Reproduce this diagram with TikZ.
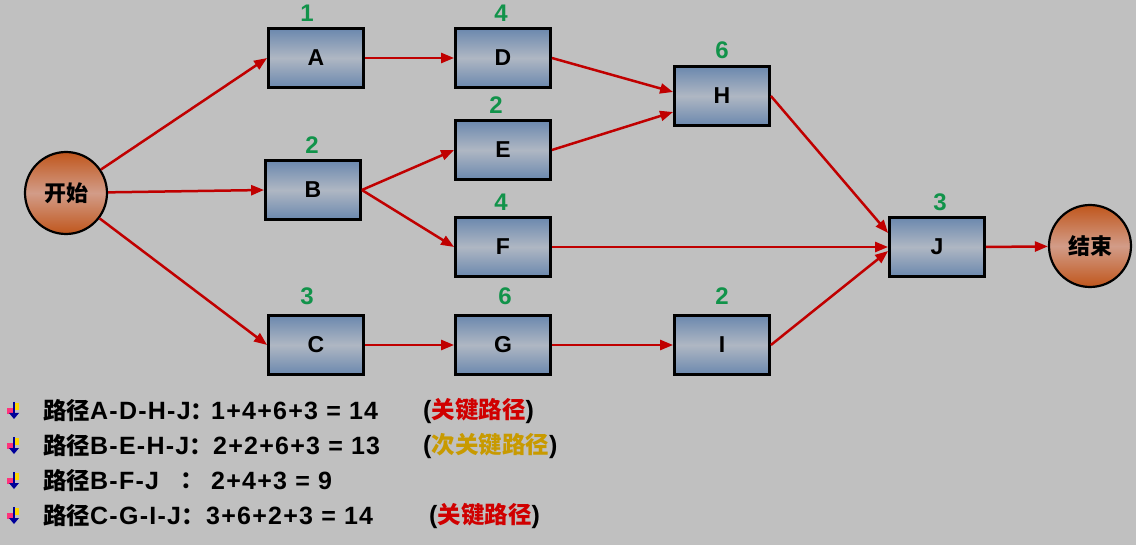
\documentclass[tikz,border=0pt]{standalone}
\usepackage{fontspec}
\newfontfamily\cjk{Noto Sans CJK SC}
\newfontfamily\lat{Liberation Sans}
\newfontfamily\latw{Liberation Sans}[LetterSpace=5]
\usetikzlibrary{arrows.meta}
\definecolor{bg}{HTML}{C0C0C0}
\definecolor{edgered}{HTML}{C00000}
\definecolor{num}{HTML}{11934A}
\definecolor{boxA}{HTML}{6B88AE}
\definecolor{boxB}{HTML}{AFB7C3}
\definecolor{circA}{HTML}{C0561C}
\definecolor{circB}{HTML}{D29C88}
\definecolor{keyred}{HTML}{D00000}
\definecolor{gold}{HTML}{C89A00}
\tikzset{
  task/.style={draw=black, line width=2.8pt, minimum width=95pt, minimum height=59pt, inner sep=0pt,
    top color=boxA, bottom color=boxA, middle color=boxB, font=\lat\bfseries\fontsize{23}{27}\selectfont},
  ev/.style={circle, draw=black, line width=2.2pt, minimum size=82pt, inner sep=0pt,
    top color=circA, bottom color=circA, middle color=circB, font=\cjk\bfseries\fontsize{22}{26}\selectfont},
  dur/.style={text=num, inner sep=0pt, font=\lat\bfseries\fontsize{24}{28}\selectfont},
  link/.style={draw=edgered, line width=2.5pt, -{Triangle[length=13pt,width=10pt]}},
  txt/.style={anchor=west, inner sep=0pt, font=\bfseries\fontsize{23}{27}\selectfont},
  bul/.pic={
    \fill[yellow!75!orange] (-1,-8) rectangle (5,-1);
    \fill[red!65!magenta!80] (-7,-3) rectangle (-1,3);
    \draw[blue!60!black, line width=1.8pt] (0,-9) -- (0,3);
    \fill[blue!60!black] (-5,2) -- (5,2) -- (0,8) -- cycle;
  }
}
\newcommand\Lt[1]{{\latw\bfseries\fontsize{25}{29}\selectfont #1}}
\newcommand\Ck[1]{{\cjk\bfseries\fontsize{23.5}{27}\selectfont #1}}
\begin{document}
\begin{tikzpicture}[x=1pt,y=-1pt]
\fill[bg] (0,0) rectangle (1136,545);
\useasboundingbox (0,0) rectangle (1136,545);

\node[ev] (start) at (66,193) {开始};
\node[ev] (end) at (1090,246) {结束};

\node[task] (A) at (316,58) {A};
\node[task] (D) at (503,58) {D};
\node[task] (H) at (722,96) {H};
\node[task] (B) at (313,190) {B};
\node[task] (E) at (503,150) {E};
\node[task] (F) at (503,247) {F};
\node[task] (C) at (316,345) {C};
\node[task] (G) at (503,345) {G};
\node[task] (I) at (722,345) {I};
\node[task] (J) at (937,247) {J};

\node[dur] (dA) at (307,13) {1};
\node[dur] (dD) at (501,13) {4};
\node[dur] (dH) at (722,50) {6};
\node[dur] (dB) at (312,145) {2};
\node[dur] (dE) at (496,105) {2};
\node[dur] (dF) at (501,202) {4};
\node[dur] (dJ) at (940,202) {3};
\node[dur] (dC) at (307,296) {3};
\node[dur] (dG) at (505,296) {6};
\node[dur] (dI) at (722,296) {2};

\draw[link] (start) -- (A.west);
\draw[link] (start) -- (B.west);
\draw[link] (start) -- (C.west);
\draw[link] (A.east) -- (D.west);
\draw[link] (B.east) -- (E.west);
\draw[link] (B.east) -- (F.west);
\draw[link] (C.east) -- (G.west);
\draw[link] (D.east) -- ([yshift=4pt]H.west);
\draw[link] (E.east) -- ([yshift=-16pt]H.west);
\draw[link] (G.east) -- (I.west);
\draw[link] (H.east) -- ([yshift=14pt]J.west);
\draw[link] (F.east) -- (J.west);
\draw[link] (I.east) -- ([yshift=-4pt]J.west);
\draw[link] (J.east) -- (end);

\pic at (14,411) {bul};
\pic at (14,446) {bul};
\pic at (14,481) {bul};
\pic at (14,516) {bul};

\node[txt] (l1a) at (43,411) {\Ck{路径}\Lt{A-D-H-J}\Ck{：}};
\node[txt] (l1b) at (211,411) {\Lt{1+4+6+3 = 14}};
\node[txt] (l1c) at (423,411) {\Lt{(}\Ck{\textcolor{keyred}{关键路径}}\Lt{)}};

\node[txt] (l2a) at (43,446) {\Ck{路径}\Lt{B-E-H-J}\Ck{：}};
\node[txt] (l2b) at (213,446) {\Lt{2+2+6+3 = 13}};
\node[txt] (l2c) at (423,446) {\Lt{(}\Ck{\textcolor{gold}{次关键路径}}\Lt{)}};

\node[txt] (l3a) at (43,481) {\Ck{路径}\Lt{B-F-J}};
\node[txt] (l3b) at (180,481) {\Ck{：}};
\node[txt] (l3c) at (211,481) {\Lt{2+4+3 = 9}};

\node[txt] (l4a) at (43,516) {\Ck{路径}\Lt{C-G-I-J}\Ck{：}};
\node[txt] (l4b) at (206,516) {\Lt{3+6+2+3 = 14}};
\node[txt] (l4c) at (429,516) {\Lt{(}\Ck{\textcolor{keyred}{关键路径}}\Lt{)}};
\end{tikzpicture}
\end{document}
